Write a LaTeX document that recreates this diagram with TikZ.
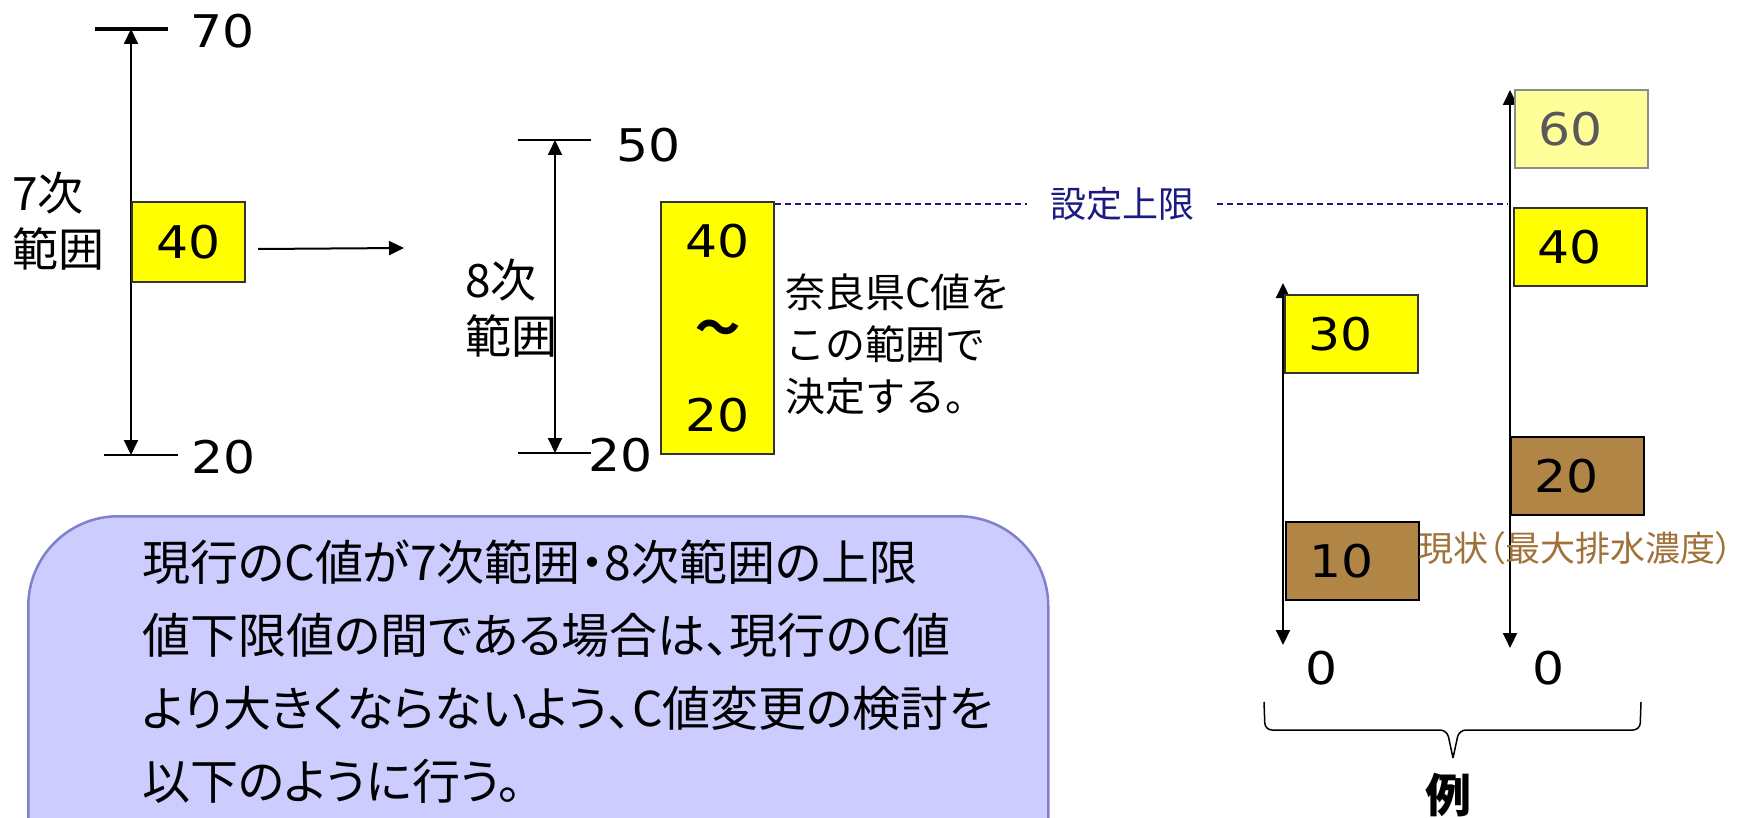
\documentclass[tikz,border=0pt]{standalone}
\usepackage{fontspec}
\setmainfont{DejaVu Sans}[FakeStretch=1.12]
\newfontfamily\jp{Noto Sans CJK JP}
\newfontfamily\jpprop{Noto Sans CJK JP}[RawFeature=+palt]
\usetikzlibrary{positioning,arrows.meta}
\definecolor{boxyellow}{HTML}{FFFF00}
\definecolor{paleyellow}{HTML}{FFFF99}
\definecolor{ochre}{HTML}{B08545}
\definecolor{ochretext}{HTML}{A0723A}
\definecolor{limitblue}{HTML}{1A1A80}
\definecolor{panelfill}{HTML}{CCCCFF}
\definecolor{paneldraw}{HTML}{8080CC}

\begin{document}
\begin{tikzpicture}[
  x=1pt, y=-1pt,
  >={Triangle[length=15pt,width=14pt]},
  axis/.style={<->, line width=2pt},
  thicktick/.style={line width=4pt},
  thintick/.style={line width=2.5pt},
  num/.style={font=\fontsize{45}{54}\selectfont, inner sep=0pt},
  rangetext/.style={font=\jp\fontsize{46}{56}\selectfont, align=left, inner sep=0pt},
  midbox/.style={rectangle, draw=black!80, fill=boxyellow, line width=2pt, minimum width=113pt, minimum height=80pt, font=\fontsize{45}{54}\selectfont},
  tallbox/.style={rectangle, draw=black!80, fill=boxyellow, line width=2pt, minimum width=113pt, minimum height=252pt, align=center, font=\fontsize{45}{87}\selectfont},
  valuebox/.style={rectangle, line width=2pt, inner xsep=23pt, text width=87pt, align=left, minimum height=78pt, font=\fontsize{45}{54}\selectfont},
  ybox/.style={valuebox, draw=black!80, fill=boxyellow},
  bbox/.style={valuebox, draw=black, fill=ochre},
  pbox/.style={valuebox, draw=black!45, fill=paleyellow, text=black!65},
  notetext/.style={font=\jp\fontsize{40}{52}\selectfont, align=left, inner sep=0pt},
  limittext/.style={font=\jp\fontsize{36}{40}\selectfont, text=limitblue, inner xsep=23pt},
  limitline/.style={draw=limitblue, line width=1.5pt, dash pattern=on 6pt off 4pt},
  statetext/.style={font=\jpprop\fontsize{35}{40}\selectfont, text=ochretext, inner sep=0pt},
  panel/.style={rectangle, rounded corners=90pt, fill=panelfill, draw=paneldraw, line width=2.5pt, minimum width=1020pt, minimum height=420pt},
  paneltext/.style={font=\jpprop\fontsize{48}{73}\selectfont, align=left, inner sep=0pt}
]
  \path[use as bounding box, clip] (0,0) rectangle (1752,818);

  % 7th range
  \coordinate (t7) at (131,29);
  \coordinate (b7) at (131,455);
  \draw[thicktick] ([xshift=-36pt]t7) -- ([xshift=37pt]t7);
  \draw[thintick] ([xshift=-27pt]b7) -- ([xshift=47pt]b7);
  \draw[axis] (t7) -- (b7);
  \node[num, anchor=west] (n70) at (190,31) {70};
  \node[num, anchor=west] (n20a) at (191,457) {20};
  \node[rangetext, anchor=west] (r7) at (12,221) {7次\\範囲};
  \node[midbox, anchor=north west] (B7) at (131,201) {40};
  \coordinate (to8) at (404,248);
  \draw[->, line width=2pt] ([shift={(12,7)}]B7.east) -- (to8);

  % 8th range
  \coordinate (t8) at (555,140);
  \coordinate (b8) at (555,453);
  \draw[thintick] ([xshift=-37pt]t8) -- ([xshift=36pt]t8);
  \draw[thintick] ([xshift=-37pt]b8) -- ([xshift=36pt]b8);
  \draw[axis] (t8) -- (b8);
  \node[num, anchor=west] (n50) at (616,145) {50};
  \node[num, anchor=west] (n20b) at (588,455) {20};
  \node[rangetext, anchor=west] (r8) at (465,308) {8次\\範囲};
  \node[tallbox, anchor=north west] (R8) at (660,201) {40\\{\jp\bfseries ～}\\20};
  \node[notetext, right=10pt of R8, yshift=-16pt] (note) {奈良県C値を\\この範囲で\\決定する。};

  % example axes
  \coordinate (tA) at (1283,283);
  \coordinate (bA) at (1283,645);
  \coordinate (tB) at (1510,90);
  \coordinate (bB) at (1510,648);
  \draw[axis] (tA) -- (bA);
  \draw[axis] (tB) -- (bB);

  \node[limittext] (lim) at (1122,204) {設定上限};
  \draw[limitline] (R8.north east |- lim) -- (lim.west);
  \draw[limitline] (lim.east) -- ([xshift=-2pt]lim -| tB);

  \node[ybox, anchor=north west] (A30) at (1284,294) {30};
  \node[bbox, anchor=north west] (A10) at (1285,521) {10};
  \node[pbox, anchor=north west] (B60) at (1514,89) {60};
  \node[ybox, anchor=north west] (B40) at (1513,207) {40};
  \node[bbox, anchor=north west] (B20) at (1510,436) {20};
  \node[num] (zA) at (1322,668) {0};
  \node[num] (zB) at (1549,668) {0};
  \node[statetext, anchor=west] (now) at (1418,548) {現状（最大排水濃度）};

  % brace
  \draw[line width=1.5pt, rounded corners=7pt] (1264,702) -- (1265,730) -- (1447,730) -- (1453,758);
  \draw[line width=1.5pt, rounded corners=7pt] (1641,702) -- (1640,730) -- (1459,730) -- (1453,758);
  \node[font=\jp\bfseries\fontsize{46}{50}\selectfont] (ex) at (1448,795) {例};

  % note panel
  \node[panel, anchor=north west] (P) at (27,515) {};
  \node[paneltext, anchor=north west] (Ptext) at (142,540) {現行のC値が7次範囲・8次範囲の上限\\値下限値の間である場合は、現行のC値\\より大きくならないよう、C値変更の検討を\\以下のように行う。};
\end{tikzpicture}
\end{document}
